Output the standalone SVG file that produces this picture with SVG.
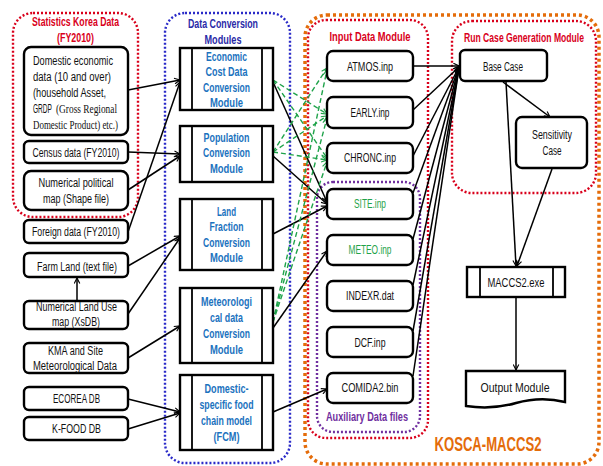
<svg xmlns="http://www.w3.org/2000/svg" width="603" height="466" viewBox="0 0 603 466">
<defs>
<marker id="ah" viewBox="0 0 10 10" refX="9" refY="5" markerWidth="7" markerHeight="7" orient="auto" markerUnits="userSpaceOnUse">
<path d="M1,1 L9,5 L1,9" fill="none" stroke="#000" stroke-width="1.6"/>
</marker>
<marker id="ahg" viewBox="0 0 10 10" refX="9" refY="5" markerWidth="7" markerHeight="7" orient="auto" markerUnits="userSpaceOnUse">
<path d="M1,1 L9,5 L1,9" fill="none" stroke="#1FA34A" stroke-width="1.6"/>
</marker>
</defs>
<style>
text{font-family:"Liberation Sans",Arial,sans-serif;font-size:12.5px;text-anchor:middle;fill:#111;}
.sf{font-family:"Liberation Serif","Times New Roman",serif;}
.l{text-anchor:start;}
.mod{font-weight:bold;fill:#1B72BE;}
.red{font-weight:bold;fill:#D9001B;font-size:12px;}
.grn{fill:#1FA34A;}
.pur{font-weight:bold;fill:#7030A0;font-size:12px;}
.nav{font-weight:bold;fill:#2A2AA8;}
.org{font-weight:bold;fill:#E46C0A;font-size:20px;}
.box{fill:#fff;stroke:#000;stroke-width:2.4;}
.mbox{fill:#fff;stroke:#000;stroke-width:2.4;}
.bar{stroke:#000;stroke-width:1.8;}
.cr{fill:none;stroke:#D9001B;stroke-width:2.4;stroke-dasharray:2 2;}
.cb{fill:none;stroke:#2A2AC8;stroke-width:2.4;stroke-dasharray:2 2;}
.cp{fill:none;stroke:#7030A0;stroke-width:2.4;stroke-dasharray:2 2;}
.co{fill:none;stroke:#E46C0A;stroke-width:3.5;stroke-dasharray:3 3;}
.k{stroke:#000;stroke-width:1.5;fill:none;marker-end:url(#ah);}
.g{stroke:#1FA34A;stroke-width:1.4;stroke-dasharray:5 3;fill:none;marker-end:url(#ahg);}
</style>

<g id="containers">
<rect class="co" x="305" y="15" width="294" height="449" rx="22"/>
<rect class="cr" x="13" y="13" width="125" height="204" rx="20"/>
<rect class="cb" x="165" y="13" width="125" height="450" rx="20"/>
<rect class="cr" x="308" y="20" width="120" height="418" rx="18"/>
<rect class="cp" x="317" y="182" width="103" height="250" rx="16"/>
<rect class="cr" x="452" y="21" width="144" height="172" rx="20"/>
<text class="red" x="75.5" y="26" textLength="87" lengthAdjust="spacingAndGlyphs">Statistics Korea Data</text>
<text class="red" x="75.5" y="42" textLength="37" lengthAdjust="spacingAndGlyphs">(FY2010)</text>
<text class="nav" x="223" y="28" textLength="70" lengthAdjust="spacingAndGlyphs">Data Conversion</text>
<text class="nav" x="223" y="44" textLength="37" lengthAdjust="spacingAndGlyphs">Modules</text>
<text class="red" x="370" y="41" textLength="81" lengthAdjust="spacingAndGlyphs">Input Data Module</text>
<text class="pur" x="367" y="421" textLength="82" lengthAdjust="spacingAndGlyphs">Auxiliary Data files</text>
<text class="red" x="524" y="42" font-size="11.5" textLength="120" lengthAdjust="spacingAndGlyphs">Run Case Generation Module</text>
<text class="org" x="488" y="451" textLength="107" lengthAdjust="spacingAndGlyphs">KOSCA-MACCS2</text>
</g>

<g id="connectors">
<line class="k" x1="128" y1="90" x2="180" y2="80"/>
<line class="k" x1="128" y1="232" x2="180" y2="82"/>
<line class="k" x1="128" y1="152" x2="180" y2="154"/>
<line class="k" x1="128" y1="190" x2="180" y2="156"/>
<line class="k" x1="128" y1="266" x2="180" y2="236"/>
<line class="k" x1="128" y1="314" x2="180" y2="238"/>
<line class="k" x1="128" y1="358" x2="180" y2="326"/>
<line class="k" x1="128" y1="399" x2="180" y2="412"/>
<line class="k" x1="128" y1="429" x2="180" y2="413"/>
<line class="k" x1="77" y1="301" x2="77" y2="278"/>

<line class="k" x1="273" y1="82" x2="327" y2="202"/>
<line class="k" x1="273" y1="156" x2="327" y2="204"/>
<line class="k" x1="273" y1="234" x2="327" y2="206"/>
<line class="k" x1="273" y1="328" x2="327" y2="251"/>
<line class="k" x1="273" y1="412" x2="327" y2="389"/>

<line class="g" x1="273" y1="80" x2="327" y2="114"/>
<line class="g" x1="273" y1="80" x2="327" y2="158"/>
<line class="g" x1="273" y1="152" x2="327" y2="68"/>
<line class="g" x1="273" y1="152" x2="327" y2="116"/>
<line class="g" x1="273" y1="152" x2="327" y2="160"/>
<line class="g" x1="273" y1="322" x2="327" y2="70"/>
<line class="g" x1="273" y1="322" x2="327" y2="118"/>
<line class="g" x1="273" y1="322" x2="327" y2="162"/>

<line class="k" x1="413" y1="66" x2="459" y2="66"/>
<line class="k" x1="413" y1="110" x2="459" y2="67"/>
<line class="k" x1="413" y1="156" x2="459" y2="67"/>
<line class="k" x1="413" y1="193" x2="459" y2="67"/>
<line class="k" x1="413" y1="239" x2="459" y2="67"/>
<line class="k" x1="413" y1="285" x2="459" y2="68"/>
<line class="k" x1="413" y1="331" x2="459" y2="68"/>
<line class="k" x1="413" y1="376" x2="459" y2="68"/>

<line class="k" x1="503" y1="82" x2="550" y2="117"/>
<line class="k" x1="506" y1="82" x2="516" y2="266"/>
<line class="k" x1="552" y1="169" x2="517" y2="266"/>
<line class="k" x1="516" y1="297" x2="516" y2="370"/>
</g>

<g id="n-domestic"><rect class="box" x="24" y="47" width="104" height="88" rx="7"/>
<text class="l" x="33" y="65" textLength="80" lengthAdjust="spacingAndGlyphs">Domestic economic</text>
<text class="l" x="33" y="81" textLength="78" lengthAdjust="spacingAndGlyphs">data (10 and over)</text>
<text class="l" x="33" y="97" textLength="73" lengthAdjust="spacingAndGlyphs">(household Asset,</text>
<text class="l" x="33" y="113" textLength="19" lengthAdjust="spacingAndGlyphs">GRDP</text>
<text class="l sf" x="56" y="113" textLength="61" lengthAdjust="spacingAndGlyphs">(Gross Regional</text>
<text class="l sf" x="33" y="129" textLength="85" lengthAdjust="spacingAndGlyphs">Domestic Product) etc.)</text></g>
<g id="n-census"><rect class="box" x="24" y="141" width="104" height="22" rx="5"/>
<text x="76" y="157" textLength="87" lengthAdjust="spacingAndGlyphs">Census data (FY2010)</text></g>
<g id="n-political"><rect class="box" x="24" y="171" width="104" height="39" rx="7"/>
<text x="76" y="187" textLength="75" lengthAdjust="spacingAndGlyphs">Numerical political</text>
<text x="76" y="203" textLength="66" lengthAdjust="spacingAndGlyphs">map (Shape file)</text></g>
<g id="n-foreign"><rect class="box" x="24" y="220" width="104" height="23" rx="5"/>
<text x="76" y="236" textLength="88" lengthAdjust="spacingAndGlyphs">Foreign data (FY2010)</text></g>
<g id="n-farm"><rect class="box" x="24" y="253" width="104" height="24" rx="5"/>
<text x="77" y="271" textLength="80" lengthAdjust="spacingAndGlyphs">Farm Land (text file)</text></g>
<g id="n-landuse"><rect class="box" x="24" y="301" width="104" height="28" rx="5"/>
<text x="76.5" y="311" textLength="81" lengthAdjust="spacingAndGlyphs">Numerical Land Use</text>
<text x="76" y="326" textLength="48" lengthAdjust="spacingAndGlyphs">map (XsDB)</text></g>
<g id="n-kma"><rect class="box" x="24" y="343" width="104" height="30" rx="5"/>
<text x="75.5" y="355" textLength="55" lengthAdjust="spacingAndGlyphs">KMA and Site</text>
<text x="75" y="370" textLength="84" lengthAdjust="spacingAndGlyphs">Meteorological Data</text></g>
<g id="n-ecorea"><rect class="box" x="24" y="387" width="104" height="23" rx="5"/>
<text x="76.5" y="403" textLength="47" lengthAdjust="spacingAndGlyphs">ECOREA DB</text></g>
<g id="n-kfood"><rect class="box" x="24" y="417" width="104" height="23" rx="5"/>
<text x="76.5" y="433" textLength="49" lengthAdjust="spacingAndGlyphs">K-FOOD DB</text></g>

<g id="m-economic"><rect class="mbox" x="180" y="48" width="93" height="62"/>
<line class="bar" x1="192" y1="48" x2="192" y2="110"/><line class="bar" x1="262" y1="48" x2="262" y2="110"/>
<text class="mod" x="226.5" y="61" textLength="41" lengthAdjust="spacingAndGlyphs">Economic</text>
<text class="mod" x="226.5" y="76" textLength="42" lengthAdjust="spacingAndGlyphs">Cost Data</text>
<text class="mod" x="226.5" y="92" textLength="47" lengthAdjust="spacingAndGlyphs">Conversion</text>
<text class="mod" x="226.5" y="107" textLength="33" lengthAdjust="spacingAndGlyphs">Module</text></g>
<g id="m-population"><rect class="mbox" x="180" y="126" width="93" height="56"/>
<line class="bar" x1="192" y1="126" x2="192" y2="182"/><line class="bar" x1="262" y1="126" x2="262" y2="182"/>
<text class="mod" x="226.5" y="142" textLength="46" lengthAdjust="spacingAndGlyphs">Population</text>
<text class="mod" x="226.5" y="157" textLength="47" lengthAdjust="spacingAndGlyphs">Conversion</text>
<text class="mod" x="226.5" y="173" textLength="33" lengthAdjust="spacingAndGlyphs">Module</text></g>
<g id="m-land"><rect class="mbox" x="180" y="199" width="93" height="71"/>
<line class="bar" x1="192" y1="199" x2="192" y2="270"/><line class="bar" x1="262" y1="199" x2="262" y2="270"/>
<text class="mod" x="226.5" y="216" textLength="19" lengthAdjust="spacingAndGlyphs">Land</text>
<text class="mod" x="226.5" y="231" textLength="34" lengthAdjust="spacingAndGlyphs">Fraction</text>
<text class="mod" x="226.5" y="247" textLength="47" lengthAdjust="spacingAndGlyphs">Conversion</text>
<text class="mod" x="226.5" y="262" textLength="33" lengthAdjust="spacingAndGlyphs">Module</text></g>
<g id="m-meteo"><rect class="mbox" x="180" y="288" width="93" height="75"/>
<line class="bar" x1="192" y1="288" x2="192" y2="363"/><line class="bar" x1="262" y1="288" x2="262" y2="363"/>
<text class="mod" x="226.5" y="306" textLength="51" lengthAdjust="spacingAndGlyphs">Meteorologi</text>
<text class="mod" x="226.5" y="322" textLength="33" lengthAdjust="spacingAndGlyphs">cal data</text>
<text class="mod" x="226.5" y="338" textLength="47" lengthAdjust="spacingAndGlyphs">Conversion</text>
<text class="mod" x="226.5" y="354" textLength="33" lengthAdjust="spacingAndGlyphs">Module</text></g>
<g id="m-fcm"><rect class="mbox" x="180" y="375" width="93" height="75"/>
<line class="bar" x1="192" y1="375" x2="192" y2="450"/><line class="bar" x1="262" y1="375" x2="262" y2="450"/>
<text class="mod" x="226.5" y="393" textLength="44" lengthAdjust="spacingAndGlyphs">Domestic-</text>
<text class="mod" x="226.5" y="409" textLength="54" lengthAdjust="spacingAndGlyphs">specific food</text>
<text class="mod" x="226.5" y="425" textLength="51" lengthAdjust="spacingAndGlyphs">chain model</text>
<text class="mod" x="226.5" y="441" textLength="26" lengthAdjust="spacingAndGlyphs">(FCM)</text></g>

<g id="i-atmos"><rect class="box" x="327" y="51" width="86" height="30" rx="6"/><text x="370" y="71" textLength="46" lengthAdjust="spacingAndGlyphs">ATMOS.inp</text></g>
<g id="i-early"><rect class="box" x="327" y="97" width="86" height="31" rx="6"/><text x="370" y="117" textLength="39" lengthAdjust="spacingAndGlyphs">EARLY.inp</text></g>
<g id="i-chronc"><rect class="box" x="327" y="143" width="86" height="30" rx="6"/><text x="370" y="162" textLength="52" lengthAdjust="spacingAndGlyphs">CHRONC.inp</text></g>
<g id="i-site"><rect class="box" x="327" y="189" width="86" height="30" rx="6"/><text class="grn" x="370" y="208" textLength="32" lengthAdjust="spacingAndGlyphs">SITE.inp</text></g>
<g id="i-meteo"><rect class="box" x="327" y="235" width="86" height="30" rx="6"/><text class="grn" x="370" y="254" textLength="43" lengthAdjust="spacingAndGlyphs">METEO.inp</text></g>
<g id="i-indexr"><rect class="box" x="327" y="281" width="86" height="30" rx="6"/><text x="370" y="300" textLength="48" lengthAdjust="spacingAndGlyphs">INDEXR.dat</text></g>
<g id="i-dcf"><rect class="box" x="327" y="327" width="86" height="30" rx="6"/><text x="370" y="347" textLength="31" lengthAdjust="spacingAndGlyphs">DCF.inp</text></g>
<g id="i-comida"><rect class="box" x="327" y="373" width="86" height="30" rx="6"/><text x="370" y="392" textLength="57" lengthAdjust="spacingAndGlyphs">COMIDA2.bin</text></g>

<g id="r-base"><rect class="box" x="460" y="50" width="87" height="31" rx="5"/><text x="503" y="71" textLength="40" lengthAdjust="spacingAndGlyphs">Base Case</text></g>
<g id="r-sens"><rect class="box" x="516" y="117" width="71" height="51" rx="6"/>
<text x="552" y="139" textLength="40" lengthAdjust="spacingAndGlyphs">Sensitivity</text>
<text x="552" y="155" textLength="19" lengthAdjust="spacingAndGlyphs">Case</text></g>
<g id="r-maccs"><rect class="mbox" x="467" y="267" width="98" height="30"/>
<line class="bar" x1="480" y1="267" x2="480" y2="297"/><line class="bar" x1="553" y1="267" x2="553" y2="297"/>
<text x="516" y="287" textLength="57" lengthAdjust="spacingAndGlyphs">MACCS2.exe</text></g>
<g id="r-output"><path class="box" d="M466,371 H565 V402 Q541,396 516,403 Q492,410 466,406 Z"/>
<text x="515" y="392" textLength="69" lengthAdjust="spacingAndGlyphs">Output Module</text></g>
</svg>
